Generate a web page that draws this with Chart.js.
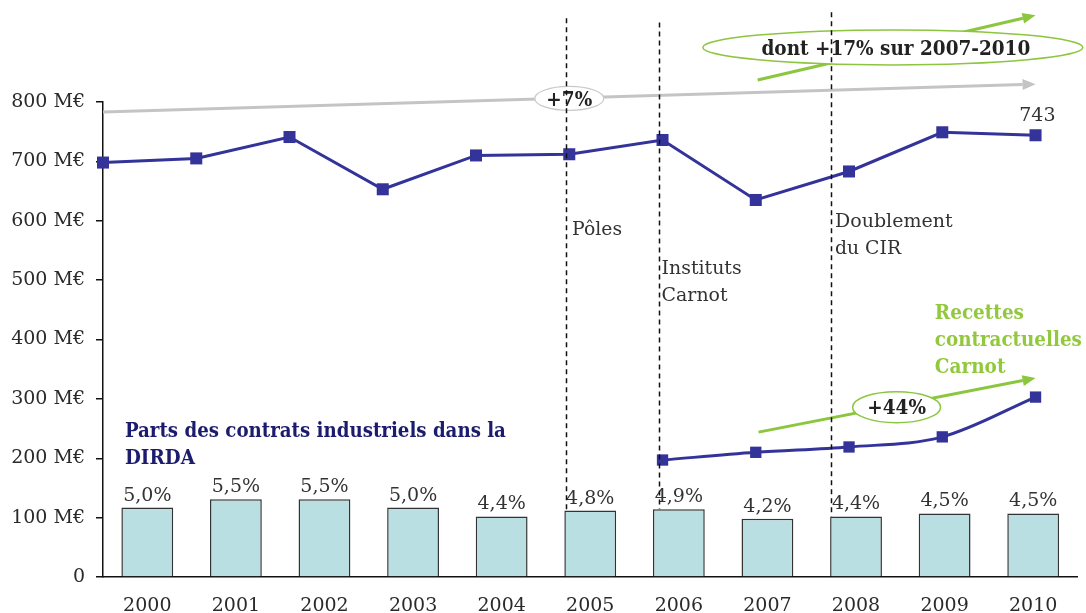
<!DOCTYPE html>
<html>
<head>
<meta charset="utf-8">
<script src="https://cdn.jsdelivr.net/npm/chart.js@4.4.1/dist/chart.umd.min.js"></script>
<style>
html,body{margin:0;padding:0;background:#fff;}
#wrap{width:1086px;height:613px;position:relative;}
</style>
</head>
<body>
<div id="wrap"><canvas id="c" width="1086" height="613"></canvas></div>
<script>
// ---- Data ----
const years = ['2000','2001','2002','2003','2004','2005','2006','2007','2008','2009','2010'];
const dirdaContracts = [698, 705, 741, 653, 710, 712, 736, 635, 683, 749, 744];
const carnotRevenue = [null, null, null, null, null, null, 197, 210, 219, 236, 303];
const industryShareBars = [117, 131, 131, 117, 102, 112, 114, 98, 102, 107, 107];
const industryShareLabels = ['5,0%','5,5%','5,5%','5,0%','4,4%','4,8%','4,9%','4,2%','4,4%','4,5%','4,5%'];
const yTicks = [0, 100, 200, 300, 400, 500, 600, 700, 800];
const lastValueLabel = '743';

// ---- Styles ----
const NAVY = '#33339a';
const GREEN = '#8cc63f';
const GREY = '#c4c4c4';
const TXT = '#2a2a2a';
const SERIF = '"DejaVu Serif", "Liberation Serif", serif';
const SERIF_B = '"DejaVu Serif Condensed", "DejaVu Serif", serif';

const linePoints = dirdaContracts.map((v, i) => ({x: i, y: v}));
const carnotPoints = carnotRevenue.map((v, i) => v == null ? null : {x: i, y: v}).filter(p => p);

// annotation positions expressed in (line-index, value) units
const annot = {
  greyArrow: {from: [0, 783], to: [10.0, 830]},
  greenArrowTop: {from: [7.02, 837], to: [10.0, 946]},
  greenArrowLow: {from: [7.03, 244], to: [10.0, 335]},
  dashed: [
    {x: 4.97, top: 941, bottom: industryShareBars[5]},
    {x: 5.96, top: 934, bottom: industryShareBars[6]},
    {x: 7.81, top: 951, bottom: industryShareBars[8]}
  ]
};

function arrow(ctx, x1, y1, x2, y2, color, w) {
  const a = Math.atan2(y2 - y1, x2 - x1);
  const L = 13, H = 5.5;
  ctx.save();
  ctx.strokeStyle = color; ctx.fillStyle = color; ctx.lineWidth = w; ctx.lineCap = 'butt';
  ctx.beginPath(); ctx.moveTo(x1, y1);
  ctx.lineTo(x2 - L * Math.cos(a), y2 - L * Math.sin(a)); ctx.stroke();
  ctx.beginPath();
  ctx.moveTo(x2, y2);
  ctx.lineTo(x2 - L * Math.cos(a) + H * Math.sin(a), y2 - L * Math.sin(a) - H * Math.cos(a));
  ctx.lineTo(x2 - L * Math.cos(a) - H * Math.sin(a), y2 - L * Math.sin(a) + H * Math.cos(a));
  ctx.closePath(); ctx.fill();
  ctx.restore();
}
function ellipse(ctx, cx, cy, rx, ry, stroke, w) {
  ctx.save();
  ctx.beginPath(); ctx.ellipse(cx, cy, rx, ry, 0, 0, Math.PI * 2);
  ctx.fillStyle = '#fff'; ctx.fill();
  ctx.strokeStyle = stroke; ctx.lineWidth = w; ctx.stroke();
  ctx.restore();
}
function text(ctx, s, x, y, font, color, align, maxW) {
  ctx.save();
  ctx.font = font; ctx.fillStyle = color; ctx.textAlign = align || 'left'; ctx.textBaseline = 'alphabetic';
  if (maxW && ctx.measureText(s).width > maxW) ctx.fillText(s, x, y, maxW); else ctx.fillText(s, x, y);
  ctx.restore();
}

const annotationPlugin = {
  id: 'annot',
  afterDatasetsDraw(chart) {
    const ctx = chart.ctx;
    const X = v => chart.scales.xl.getPixelForValue(v);
    const Y = v => chart.scales.y.getPixelForValue(v);

    // bar value labels
    const barMeta = chart.getDatasetMeta(0);
    barMeta.data.forEach((bar, i) => {
      text(ctx, industryShareLabels[i], bar.x, bar.y - 7, '19px ' + SERIF, '#333', 'center');
    });

    // arrows
    const g = annot.greyArrow;
    arrow(ctx, X(g.from[0]), Y(g.from[1]), X(g.to[0]), Y(g.to[1]), GREY, 3);
    const t = annot.greenArrowTop;
    arrow(ctx, X(t.from[0]), Y(t.from[1]), X(t.to[0]), Y(t.to[1]), GREEN, 3);
    const l = annot.greenArrowLow;
    arrow(ctx, X(l.from[0]), Y(l.from[1]), X(l.to[0]), Y(l.to[1]), GREEN, 3);

    const bf = 'bold 20.5px ' + SERIF_B;
    // ellipses with labels
    ellipse(ctx, X(5.0), Y(806), 34.5, 12, '#c8c8c8', 1.2);
    text(ctx, '+7%', X(5.0), Y(794), bf, '#222', 'center', 54);
    ellipse(ctx, X(8.47), Y(892), 190, 17.5, GREEN, 1.5);
    text(ctx, 'dont +17% sur 2007-2010', X(8.47) + 3, Y(880), bf, '#222', 'center', 270);
    ellipse(ctx, X(8.51), Y(286), 44, 15.5, GREEN, 1.5);
    text(ctx, '+44%', X(8.51), Y(275), bf, '#222', 'center', 66);

    // green label
    text(ctx, 'Recettes', X(8.92), Y(434), bf, '#92c83e', 'left', 92);
    text(ctx, 'contractuelles', X(8.92), Y(389), bf, '#92c83e', 'left', 147);
    text(ctx, 'Carnot', X(8.92), Y(343), bf, '#92c83e', 'left', 72);

    // navy label
    text(ctx, 'Parts des contrats industriels dans la', X(0.235), Y(236), bf, '#1c1c6e', 'left', 381);
    text(ctx, 'DIRDA', X(0.235), Y(190), bf, '#1c1c6e', 'left', 70);

    // event labels
    const rf = '19px ' + SERIF;
    text(ctx, 'Pôles', X(5.03), Y(576), rf, '#333', 'left', 50);
    text(ctx, 'Instituts', X(5.99), Y(510), rf, '#333', 'left', 80);
    text(ctx, 'Carnot', X(5.99), Y(465), rf, '#333', 'left', 66);
    text(ctx, 'Doublement', X(7.85), Y(589), rf, '#333', 'left', 118);
    text(ctx, 'du CIR', X(7.85), Y(544), rf, '#333', 'left', 66);

    // last value
    text(ctx, lastValueLabel, X(10.02), Y(768), '19px ' + SERIF, '#333', 'center');

    // dashed vertical lines
    ctx.save();
    ctx.strokeStyle = '#111'; ctx.lineWidth = 1.5; ctx.setLineDash([5, 4]);
    annot.dashed.forEach(d => {
      const x = Math.round(X(d.x)) + 0.5;
      ctx.beginPath(); ctx.moveTo(x, Y(d.top)); ctx.lineTo(x, Y(d.bottom)); ctx.stroke();
    });
    ctx.restore();
  }
};

new Chart(document.getElementById('c'), {
  type: 'bar',
  data: {
    labels: years,
    datasets: [
      {
        type: 'bar', data: industryShareBars, xAxisID: 'x', yAxisID: 'y', order: 3,
        backgroundColor: '#b9dfe2', borderColor: '#333', borderWidth: 1.5,
        barPercentage: 0.585, categoryPercentage: 1, grouped: false
      },
      {
        type: 'line', data: linePoints, xAxisID: 'xl', yAxisID: 'y', order: 1,
        borderColor: NAVY, borderWidth: 3, backgroundColor: NAVY,
        pointStyle: 'rect', pointRadius: 8.5, pointBackgroundColor: NAVY, pointBorderWidth: 0,
        tension: 0, clip: false
      },
      {
        type: 'line', data: carnotPoints, xAxisID: 'xl', yAxisID: 'y', order: 2,
        borderColor: NAVY, borderWidth: 3, backgroundColor: NAVY,
        pointStyle: 'rect', pointRadius: 8, pointBackgroundColor: NAVY, pointBorderWidth: 0,
        cubicInterpolationMode: 'monotone', clip: false
      }
    ]
  },
  options: {
    responsive: false,
    animation: false,
    devicePixelRatio: 1,
    layout: { padding: { top: 102, left: 0, right: 6, bottom: 0 } },
    plugins: { legend: { display: false }, tooltip: { enabled: false }, title: { display: false } },
    scales: {
      x: {
        type: 'category', offset: true,
        grid: { display: false },
        border: { display: true, color: '#111', width: 1.5 },
        ticks: { color: TXT, font: { family: SERIF, size: 19 }, padding: 10, maxRotation: 0 },
        afterFit: s => { s.height = 36; }
      },
      xl: { type: 'linear', display: false, offset: false, min: 0, max: 10.45, grid: { offset: false } },
      y: {
        min: 0, max: 800,
        afterBuildTicks: s => { s.ticks = yTicks.map(v => ({value: v})); },
        grid: { display: true, drawOnChartArea: false, drawTicks: true, tickLength: 7, color: '#111', lineWidth: 1.5 },
        border: { display: true, color: '#111', width: 1.5 },
        ticks: {
          color: TXT, font: { family: SERIF, size: 19 }, padding: 11,
          callback: v => v === 0 ? '0' : v + ' M€'
        },
        afterFit: s => { s.width = 103; }
      }
    }
  },
  plugins: [annotationPlugin]
});
</script>
</body>
</html>
